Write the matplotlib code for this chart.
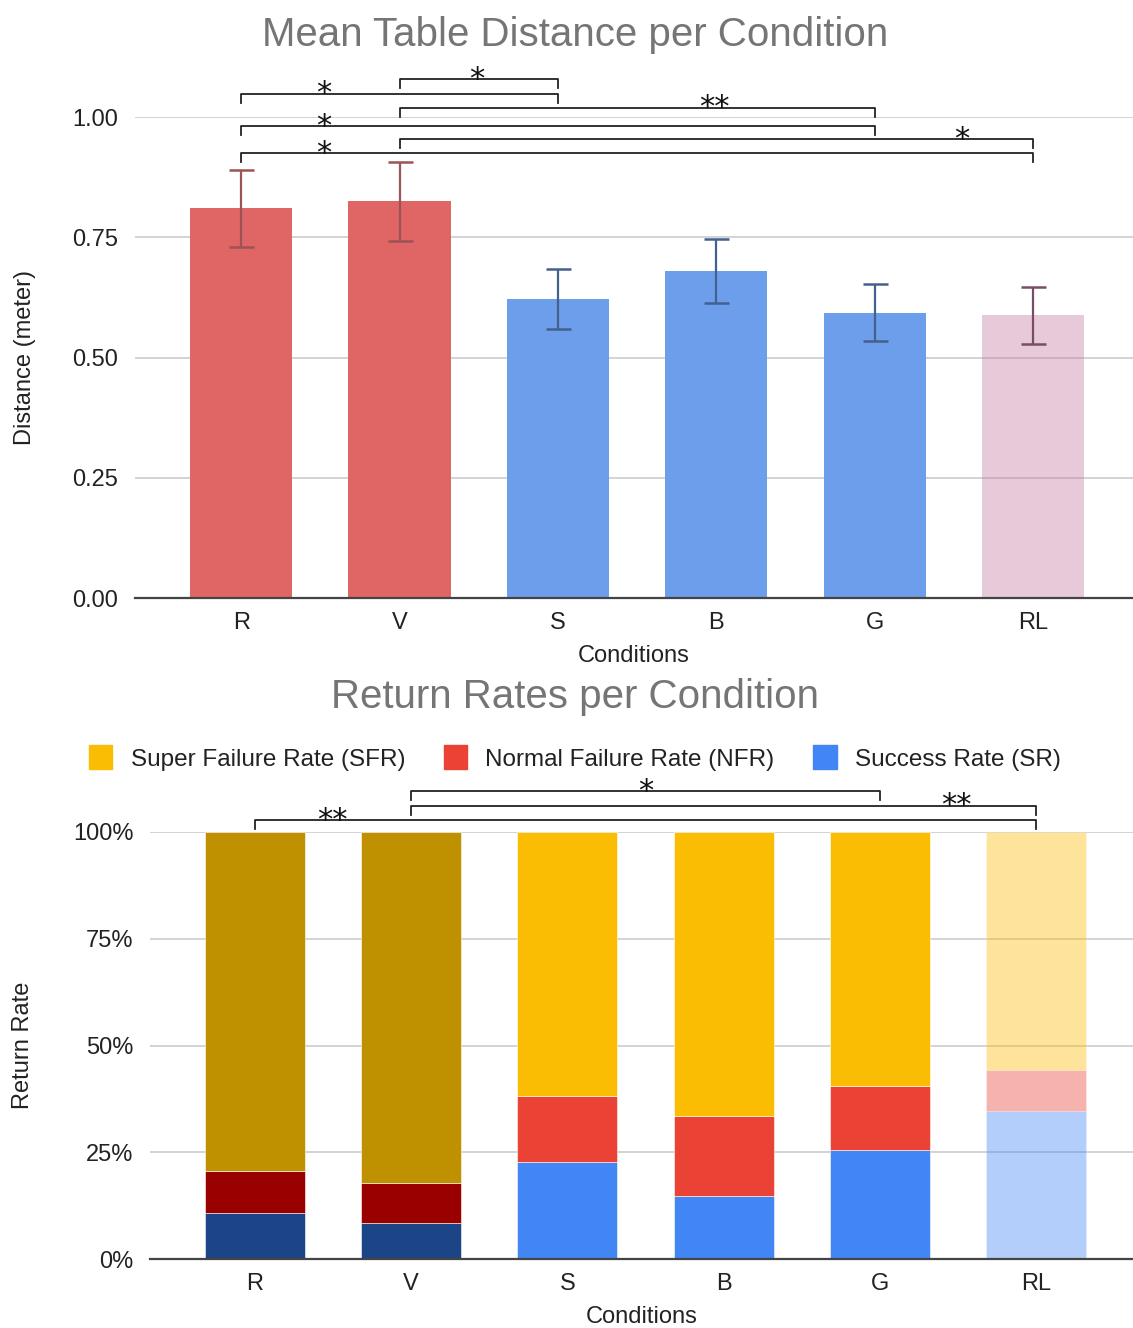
import matplotlib
matplotlib.use("Agg")
import matplotlib.pyplot as plt
from matplotlib.ticker import FuncFormatter
from matplotlib.patches import Patch
import numpy as np

plt.rcParams['font.family'] = ['Liberation Sans', 'DejaVu Sans']

# ---- data ----
conditions = ["R", "V", "S", "B", "G", "RL"]

# mean table distance (m) and error half-widths
mean_distance = [0.81, 0.825, 0.622, 0.680, 0.593, 0.588]
distance_err = [0.080, 0.082, 0.062, 0.067, 0.059, 0.059]

# return rates (%) stacked: success, normal failure, super failure
success_rate = [10.8, 8.5, 22.7, 14.8, 25.5, 34.7]
normal_failure_rate = [9.8, 9.3, 15.5, 18.7, 15.0, 9.6]
super_failure_rate = [79.4, 82.2, 61.8, 66.5, 59.5, 55.7]

# significance brackets: (left index, right index, label, label x)
dist_sig = [
    (1, 2, "*", 1.49),
    (0, 2, "*", 0.52),
    (1, 4, "**", 2.99),
    (0, 4, "*", 0.52),
    (1, 5, "*", 4.55),
    (0, 5, "*", 0.52),
]
dist_sig_level = [1.079, 1.048, 1.019, 0.981, 0.954, 0.925]

rate_sig = [
    (1, 4, "*", 2.50),
    (1, 5, "**", 4.49),
    (0, 5, "**", 0.50),
]
rate_sig_level = [109.6, 106.1, 102.8]

# ---- styling ----
W, H = 1133, 1328
fig = plt.figure(figsize=(W / 100, H / 100), dpi=100)

title_color = "#757575"
text_color = "#222222"
grid_color = "#cccccc"
fs_tick = 17
fs_title = 29

dist_colors = ["#e06666", "#e06666", "#6d9eeb", "#6d9eeb", "#6d9eeb", "#c27ba0"]
dist_alpha = [1, 1, 1, 1, 1, 0.4]
err_colors = ["#9c5356", "#9c5356", "#42618f", "#42618f", "#42618f", "#7a4d66"]

sr_colors = ["#1c4587", "#1c4587", "#4285f4", "#4285f4", "#4285f4", "#4285f4"]
nfr_colors = ["#990000", "#990000", "#ea4335", "#ea4335", "#ea4335", "#ea4335"]
sfr_colors = ["#bf9000", "#bf9000", "#fbbc04", "#fbbc04", "#fbbc04", "#fbbc04"]
rate_alpha = [1, 1, 1, 1, 1, 0.4]


def style_axes(ax):
    for s in ["left", "right", "top"]:
        ax.spines[s].set_visible(False)
    ax.spines["bottom"].set_color("#444444")
    ax.spines["bottom"].set_linewidth(1.6)
    ax.tick_params(axis="both", length=0, labelsize=fs_tick, colors=text_color)
    ax.tick_params(axis="y", pad=12)
    ax.tick_params(axis="x", pad=10)
    ax.yaxis.grid(True, color=grid_color, linewidth=1.2)
    ax.set_axisbelow(True)


def bracket(ax, i, j, level, tick, label, lx, fs):
    ax.plot([i, i, j, j], [level - tick, level, level, level - tick],
            color="#222222", linewidth=1.3, clip_on=False, zorder=5)
    ax.text(lx, level, label, ha="center", va="center", fontsize=fs,
            color="#111111", family="DejaVu Sans", clip_on=False, zorder=6)


x = np.arange(len(conditions))

# ---- top chart: mean table distance ----
ax1 = fig.add_axes([135 / W, 1 - 598 / H, 1 - 135 / W, (598 - 117) / H])
style_axes(ax1)
for xi, m, e, c, a, ec in zip(x, mean_distance, distance_err, dist_colors,
                              dist_alpha, err_colors):
    ax1.bar(xi, m, width=0.645, color=c, alpha=a, zorder=2)
    ax1.errorbar(xi, m, yerr=e, fmt="none", ecolor=ec, elinewidth=1.6,
                 capsize=9, capthick=1.8, zorder=3)
ax1.set_xlim(-0.67, 5.63)
ax1.set_ylim(0, 1.0)
ax1.set_yticks([0, 0.25, 0.5, 0.75, 1.0])
ax1.yaxis.set_major_formatter(FuncFormatter(lambda v, p: f"{v:.2f}"))
ax1.set_xticks(x)
ax1.set_xticklabels(conditions)
ax1.set_xlabel("Conditions", fontsize=fs_tick, color=text_color, labelpad=8)
ax1.set_ylabel("Distance (meter)", fontsize=fs_tick, color=text_color, labelpad=26)
for (i, j, lab, lx), lv in zip(dist_sig, dist_sig_level):
    bracket(ax1, i, j, lv, 0.019, lab, lx, 22)
fig.text(575 / W, 1 - 35 / H, "Mean Table Distance per Condition",
         ha="center", va="center", fontsize=fs_title, color=title_color)

# ---- bottom chart: return rates ----
ax2 = fig.add_axes([150 / W, 1 - 1259 / H, 1 - 150 / W, (1259 - 832) / H])
style_axes(ax2)
bottom_nfr = np.array(success_rate)
bottom_sfr = bottom_nfr + np.array(normal_failure_rate)
for k in range(len(conditions)):
    kw = dict(width=0.64, alpha=rate_alpha[k], zorder=2, edgecolor="white",
              linewidth=0.4)
    ax2.bar(x[k], success_rate[k], color=sr_colors[k], **kw)
    ax2.bar(x[k], normal_failure_rate[k], bottom=bottom_nfr[k],
            color=nfr_colors[k], **kw)
    ax2.bar(x[k], super_failure_rate[k], bottom=bottom_sfr[k],
            color=sfr_colors[k], **kw)
ax2.set_xlim(-0.67, 5.62)
ax2.set_ylim(0, 100)
ax2.set_yticks([0, 25, 50, 75, 100])
ax2.yaxis.set_major_formatter(FuncFormatter(lambda v, p: f"{v:.0f}%"))
ax2.set_xticks(x)
ax2.set_xticklabels(conditions)
ax2.set_xlabel("Conditions", fontsize=fs_tick, color=text_color, labelpad=8)
ax2.set_ylabel("Return Rate", fontsize=fs_tick, color=text_color, labelpad=28)
for (i, j, lab, lx), lv in zip(rate_sig, rate_sig_level):
    bracket(ax2, i, j, lv, 2.1, lab, lx, 22)
fig.text(575 / W, 1 - 697 / H, "Return Rates per Condition",
         ha="center", va="center", fontsize=fs_title, color=title_color)

# legend
handles = [Patch(color="#fbbc04"), Patch(color="#ea4335"), Patch(color="#4285f4")]
labels = ["Super Failure Rate (SFR)", "Normal Failure Rate (NFR)", "Success Rate (SR)"]
fig.legend(handles, labels, loc="center", bbox_to_anchor=(575 / W, 1 - 758 / H),
           ncol=3, frameon=False, fontsize=17.5, handlelength=0.95,
           handleheight=1.15, handletextpad=0.75, columnspacing=1.6,
           labelcolor=text_color)

fig.savefig("out.png", dpi=100, facecolor="white")
